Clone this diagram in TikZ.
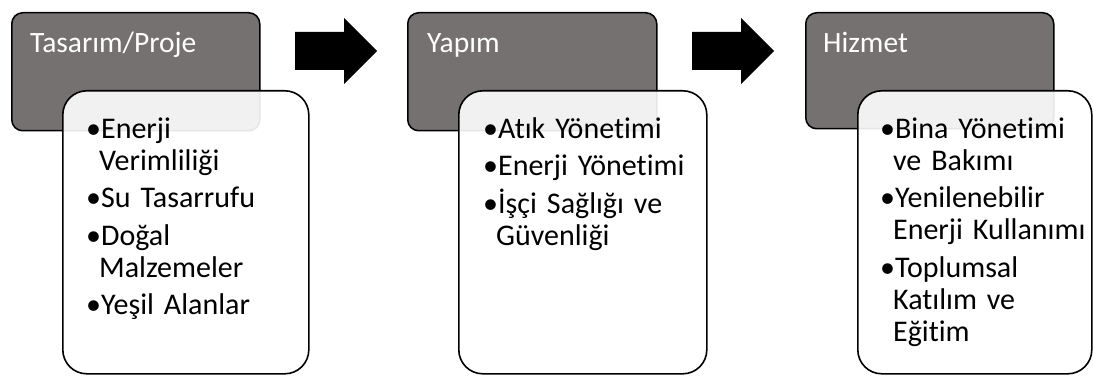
\documentclass[tikz,border=0pt]{standalone}
\usepackage{fontspec}
\setmainfont{Carlito}[Ligatures=NoCommon]
\usetikzlibrary{calc}
\definecolor{hd}{HTML}{767171}
\newcommand\itm[1]{\setbox0\hbox{•}\hangindent=\dimexpr\wd0-2pt\relax\hangafter=1\noindent\rule{0pt}{24pt}•#1\par}

\begin{document}
\begin{tikzpicture}[x=1pt, y=-1pt,
  head/.style={draw, line width=1.5pt, fill=hd, rounded corners=11pt, anchor=north west, inner sep=0pt, minimum height=118pt},
  body/.style={draw, line width=1.6pt, fill=white, fill opacity=0.9, rounded corners=24pt, anchor=north west, inner sep=0pt, minimum height=283pt},
  ttl/.style={anchor=base west, text=white, font=\fontsize{29.5}{34}\selectfont, inner sep=0pt},
  lst/.style={anchor=north west, text width=225pt, align=left, inner sep=0pt, font=\fontsize{30}{32}\selectfont, execute at begin node=\setlength{\parskip}{5.5pt}}]
\useasboundingbox (0,0) rectangle (1093,377);
% stage 1
\node[head, minimum width=248pt] (h1) at (11,12) {};
\node[ttl] (t1) at ($(h1.north west)+(19,41)$) {Tasarım/Proje};
\node[body, minimum width=246pt] (b1) at ($(h1.north west)+(51,78)$) {};
\node[lst] (l1) at ($(b1.north west)+(24,24)$) {\itm{Enerji\newline Verimliliği}\itm{Su Tasarrufu}\itm{Doğal\newline Malzemeler}\itm{Yeşil Alanlar}};
% stage 2
\node[head, minimum width=249pt] (h2) at (407,12) {};
\node[ttl] (t2) at ($(h2.north west)+(20,41)$) {Yapım};
\node[body, minimum width=248pt] (b2) at ($(h2.north west)+(51,78)$) {};
\node[lst] (l2) at ($(b2.north west)+(25,24)$) {\itm{Atık Yönetimi}\itm{Enerji Yönetimi}\itm{İşçi Sağlığı ve\newline Güvenliği}};
% stage 3
\node[head, minimum width=248pt, minimum height=116pt] (h3) at (805,12) {};
\node[ttl] (t3) at ($(h3.north west)+(18,41)$) {Hizmet};
\node[body, minimum width=234pt] (b3) at ($(h3.north west)+(52,78)$) {};
\node[lst] (l3) at ($(b3.north west)+(23,24)$) {\itm{Bina Yönetimi\newline ve Bakımı}\itm{Yenilenebilir\newline Enerji Kullanımı}\itm{Toplumsal\newline Katılım ve\newline Eğitim}};
% arrows between stages
\coordinate (a1) at (295,51);
\coordinate (a2) at (692,51);
\foreach \a in {a1,a2}
  \fill (\a) ++(0,-19) -| ++(49,-14) -- ++(33,33) -- ++(-33,33) |- ++(-49,-14) -- cycle;
\end{tikzpicture}
\end{document}
